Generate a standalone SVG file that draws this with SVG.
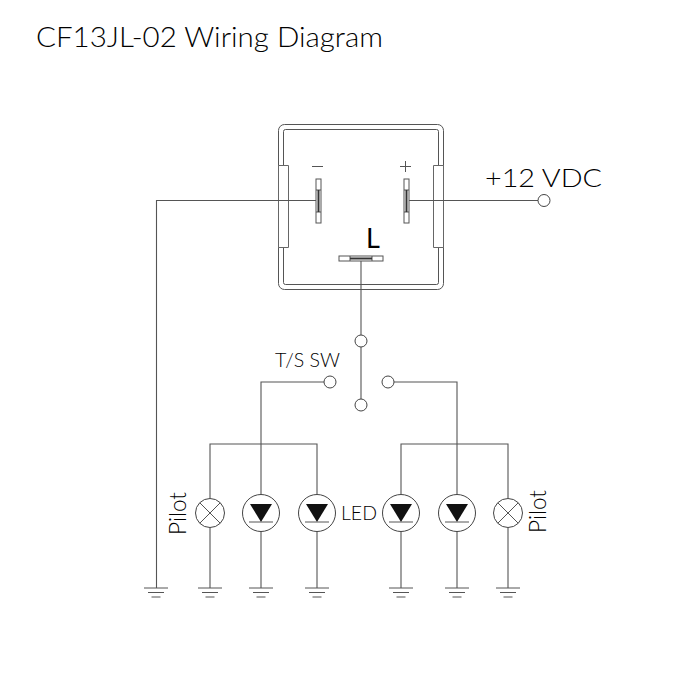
<svg xmlns="http://www.w3.org/2000/svg" width="700" height="700" viewBox="0 0 700 700">
<style>
.l{fill:none;stroke:#555;stroke-width:1}
.w{fill:none;stroke:#555;stroke-width:1.1}
.c{fill:#fff;stroke:#444;stroke-width:1}
.t{font-family:"Lato","Open Sans",sans-serif;fill:#000;font-weight:300}
</style>
<defs>
<g id="gnd"><path class="l" d="M-12 0H12M-8 4.500H8M-4.500 9H4.500"/></g>
<g id="led"><circle class="c" r="18.500"/><path d="M-11 -9H11L0 9Z" fill="#111"/><path class="l" d="M-12 9H12"/></g>
<g id="lamp"><circle class="c" r="14.500"/><path class="l" d="M-10.200 -10.200L10.200 10.200M-10.200 10.200L10.200 -10.200"/></g>
<g id="vterm"><rect class="l" x="-2.500" y="0" width="5" height="44"/><path class="l" d="M-2.500 11H2.500M-2.500 33H2.500"/><path d="M-1 11H1V33H-1Z" fill="#333"/></g>
</defs>
<rect width="700" height="700" fill="#fff"/>
<text class="t" x="36" y="47" font-size="28" textLength="347" lengthAdjust="spacingAndGlyphs">CF13JL-02 Wiring Diagram</text>
<g id="relay">
<rect class="l" x="278.500" y="124.500" width="165" height="165" rx="6"/>
<rect class="l" x="283.500" y="129.500" width="155" height="155" rx="2"/>
<path d="M288.500 165.500H278.500V247.500H288.500ZM433.500 165.500H443.500V247.500H433.500Z" fill="#fff" stroke="#666" stroke-width="1"/>
<path class="l" d="M312 166.500H323M400 166.500H411M405.500 161V172"/>
<use href="#vterm" x="318.500" y="179"/>
<use href="#vterm" x="406.500" y="179"/>
<g id="term-l"><rect class="l" x="339" y="256" width="44" height="5"/><path class="l" d="M350 256V261M372 256V261"/><path d="M350 257.500H372V259.500H350Z" fill="#333"/></g>
<text x="366" y="248" font-size="27" font-family="Lato,sans-serif" fill="#000">L</text>
</g>
<g id="connectors">
<path class="w" d="M316 200.500H156.500V588"/>
<path class="w" d="M409 200.500H538"/>
<path class="w" d="M361 261V335"/>
<path class="w" d="M361 347V399"/>
<path class="w" d="M324 382H261V588"/>
<path class="w" d="M394 382H457V588"/>
<path class="w" d="M210 498V444H317V494"/>
<path class="w" d="M401 494V444H508V498"/>
<path class="w" d="M210 528V588M317 532V588M401 532V588M508 528V588"/>
</g>
<g id="plus12"><circle class="c" cx="544" cy="200.500" r="6"/><text class="t" x="485" y="187" font-size="26" textLength="117" lengthAdjust="spacingAndGlyphs">+12 VDC</text></g>
<g id="switch">
<circle class="c" cx="361" cy="341" r="6"/>
<circle class="c" cx="361" cy="405" r="6"/>
<circle class="c" cx="330" cy="382" r="6"/>
<circle class="c" cx="388" cy="382" r="6"/>
<text class="t" x="275" y="367" font-size="19" textLength="65" lengthAdjust="spacingAndGlyphs">T/S SW</text>
</g>
<g id="lamp1"><use href="#lamp" x="210" y="513"/></g>
<g id="led1"><use href="#led" x="261" y="513"/></g>
<g id="led2"><use href="#led" x="317" y="513"/></g>
<g id="led3"><use href="#led" x="401" y="513"/></g>
<g id="led4"><use href="#led" x="457" y="513"/></g>
<g id="lamp2"><use href="#lamp" x="508" y="513"/></g>
<text class="t" x="341" y="520" font-size="20" textLength="36" lengthAdjust="spacingAndGlyphs">LED</text>
<text class="t" transform="translate(186 535) rotate(-90)" font-size="23" textLength="43" lengthAdjust="spacingAndGlyphs">Pilot</text>
<text class="t" transform="translate(546 533) rotate(-90)" font-size="23" textLength="43" lengthAdjust="spacingAndGlyphs">Pilot</text>
<g id="grounds">
<use href="#gnd" x="156" y="588"/><use href="#gnd" x="210" y="588"/><use href="#gnd" x="261" y="588"/><use href="#gnd" x="317" y="588"/><use href="#gnd" x="401" y="588"/><use href="#gnd" x="457" y="588"/><use href="#gnd" x="508" y="588"/>
</g>
</svg>
